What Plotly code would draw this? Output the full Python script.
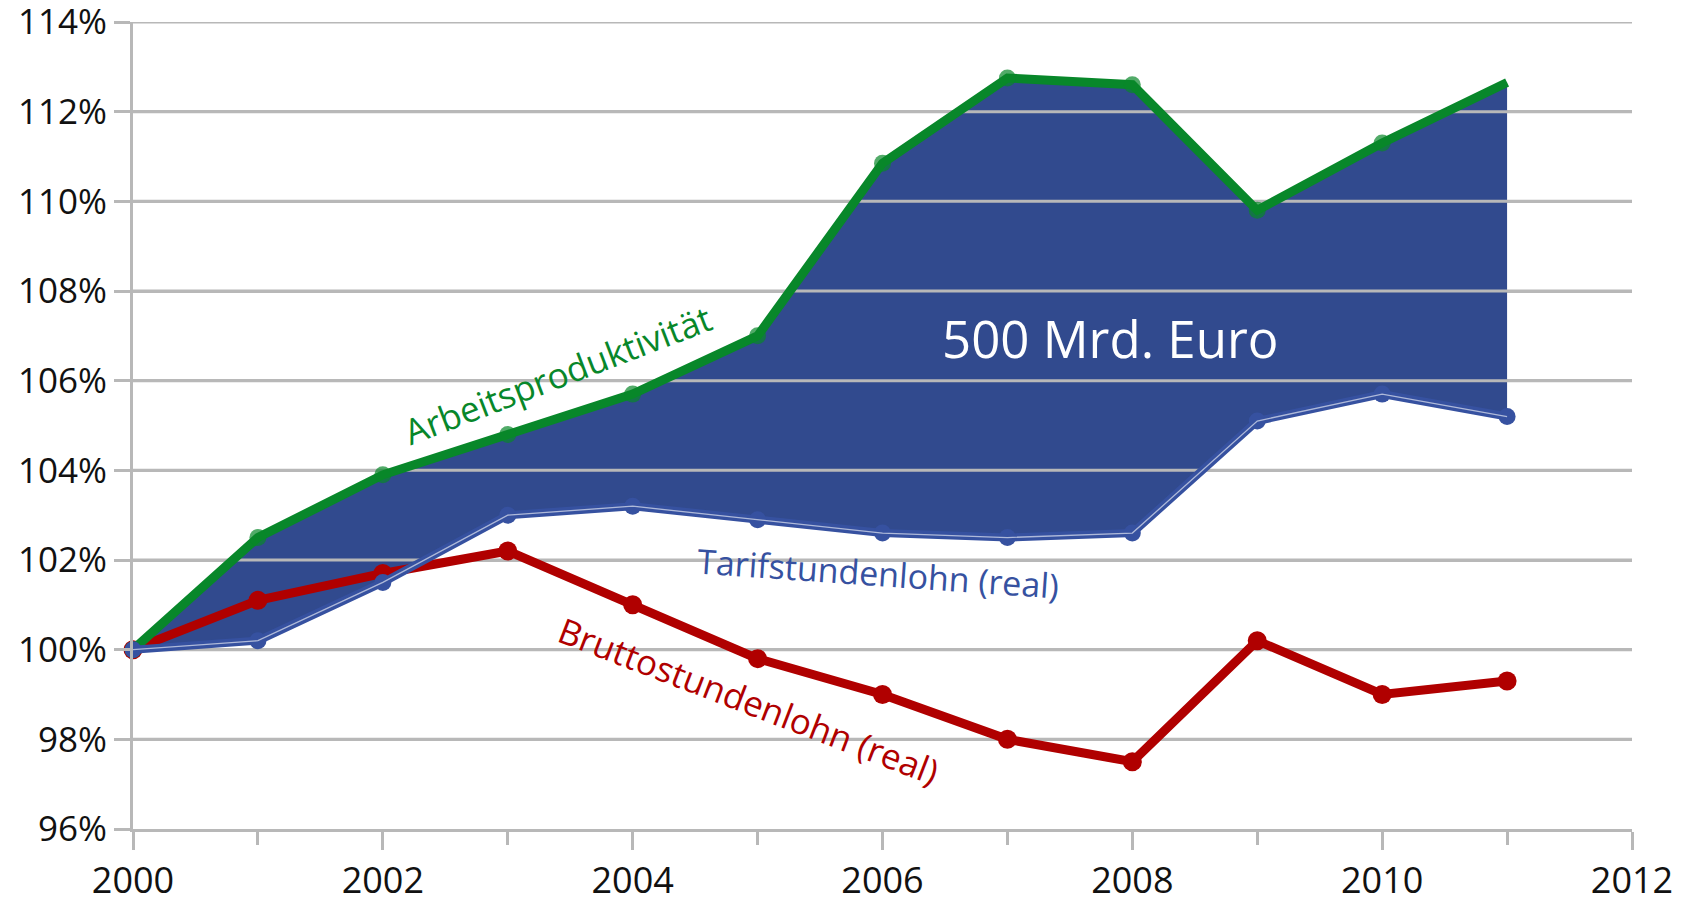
import plotly.graph_objects as go

years = [2000, 2001, 2002, 2003, 2004, 2005, 2006, 2007, 2008, 2009, 2010, 2011]
produktivitaet = [100.0, 102.5, 103.9, 104.8, 105.7, 107.0, 110.85, 112.75, 112.6, 109.8, 111.3, 112.65]
tariflohn = [100.0, 100.2, 101.5, 103.0, 103.2, 102.9, 102.6, 102.5, 102.6, 105.1, 105.7, 105.2]
bruttolohn = [100.0, 101.1, 101.7, 102.2, 101.0, 99.8, 99.0, 98.0, 97.5, 100.2, 99.0, 99.3]

y_ticks = [96, 98, 100, 102, 104, 106, 108, 110, 112, 114]
y_tick_labels = [f"{v}%" for v in y_ticks]
x_ticks = [2000, 2002, 2004, 2006, 2008, 2010, 2012]
x_tick_labels = [str(v) for v in x_ticks]
x_range = [2000, 2012]
y_range = [96, 114]

GREEN = "#08872A"
RED = "#B00000"
BLUE = "#3651A0"
FILL = "#314A8E"
GRID = "#B8B8B8"
FONT = "Open Sans"

fig = go.Figure()

# filled gap between productivity and real hourly wage
fig.add_trace(go.Scatter(x=years, y=tariflohn, mode="lines", line=dict(width=0),
                         showlegend=False, hoverinfo="skip"))
fig.add_trace(go.Scatter(x=years, y=produktivitaet, mode="lines", line=dict(width=0),
                         fill="tonexty", fillcolor=FILL, showlegend=False, hoverinfo="skip"))

# gridlines visible on top of the filled area
gx, gy = [], []
for t in y_ticks[1:]:
    gx += [x_range[0], x_range[1], None]
    gy += [t, t, None]
fig.add_trace(go.Scatter(x=gx, y=gy, mode="lines", line=dict(color=GRID, width=3),
                         showlegend=False, hoverinfo="skip"))

fig.add_trace(go.Scatter(x=years, y=bruttolohn, mode="lines+markers", cliponaxis=False,
                         line=dict(color=RED, width=9),
                         marker=dict(color=RED, size=19, line=dict(width=0)),
                         name="Bruttostundenlohn (real)", showlegend=False))
fig.add_trace(go.Scatter(x=years, y=produktivitaet, mode="lines+markers", cliponaxis=False,
                         line=dict(color=GREEN, width=9),
                         marker=dict(color=GREEN, size=[17] * (len(years) - 1) + [0],
                                     line=dict(width=0)),
                         name="Arbeitsproduktivität", showlegend=False))
fig.add_trace(go.Scatter(x=years, y=tariflohn, mode="lines+markers", cliponaxis=False,
                         line=dict(color=BLUE, width=8),
                         marker=dict(color=BLUE, size=17, line=dict(width=0)),
                         name="Tarifstundenlohn (real)", showlegend=False))
fig.add_trace(go.Scatter(x=years, y=tariflohn, mode="lines", cliponaxis=False,
                         line=dict(color="rgba(255,255,255,0.6)", width=1.3),
                         showlegend=False, hoverinfo="skip"))

fig.add_annotation(x=2003.40, y=106.13, text="Arbeitsproduktivität", showarrow=False,
                   textangle=-21, font=dict(family=FONT, size=35, color=GREEN))
fig.add_annotation(x=2007.82, y=106.95, text="500 Mrd. Euro", showarrow=False,
                   font=dict(family=FONT, size=51, color="white"))
fig.add_annotation(x=2005.96, y=101.71, text="Tarifstundenlohn (real)", showarrow=False,
                   textangle=4, font=dict(family=FONT, size=34, color=BLUE))
fig.add_annotation(x=2004.93, y=98.87, text="Bruttostundenlohn (real)", showarrow=False,
                   textangle=21, font=dict(family=FONT, size=35, color=RED))

# the page adds an 8px body margin, so the figure is sized/offset to compensate
fig.update_layout(
    width=1687, height=898,
    margin=dict(l=125, r=63, t=14, b=77, autoexpand=False),
    paper_bgcolor="white", plot_bgcolor="white",
    font=dict(family=FONT, size=35, color="#111111"),
    showlegend=False,
)
fig.update_xaxes(range=x_range, tickmode="array", tickvals=x_ticks, ticktext=x_tick_labels,
                 ticks="outside", ticklen=18, tickwidth=3, automargin=False,
                 tickcolor=GRID, showline=True, linecolor=GRID, linewidth=3, showgrid=False,
                 zeroline=False, tickfont=dict(size=36), ticklabelstandoff=0,
                 minor=dict(ticks="outside", ticklen=13, tickwidth=3, tickcolor=GRID, dtick=1,
                            tick0=2000, showgrid=False))
fig.update_yaxes(range=y_range, tickmode="array", tickvals=y_ticks, ticktext=y_tick_labels,
                 ticks="outside", ticklen=16, automargin=False,
                 tickwidth=3, tickcolor=GRID, showline=True, linecolor=GRID, linewidth=3,
                 showgrid=True, gridcolor=GRID, gridwidth=3, zeroline=False,
                 tickfont=dict(size=35), ticklabeloverflow="allow")

fig.write_html("out.html")
